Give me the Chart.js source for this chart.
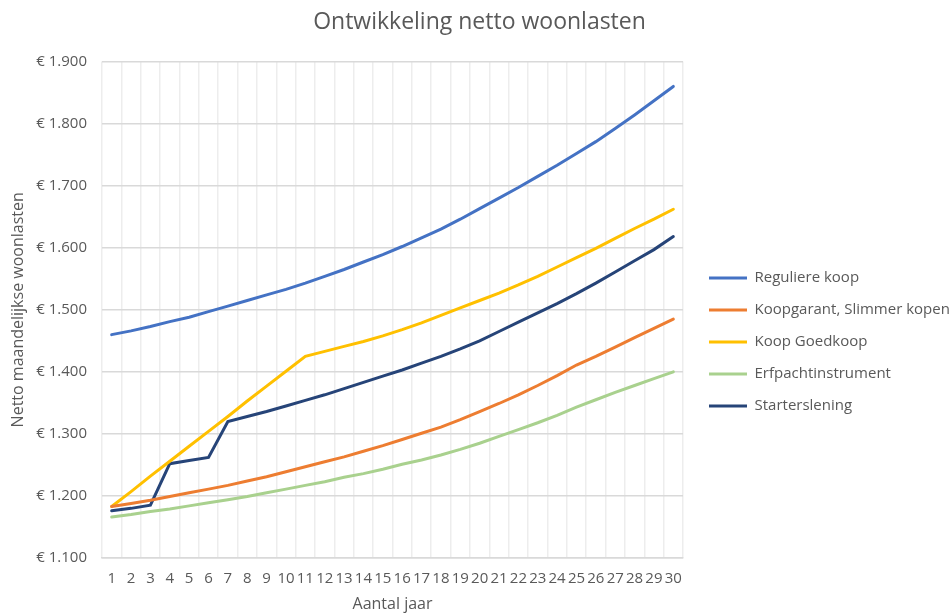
<!DOCTYPE html>
<html>
<head>
<meta charset="utf-8">
<script src="https://cdn.jsdelivr.net/npm/chart.js@4.4.0/dist/chart.umd.min.js"></script>
<style>
  html, body { margin: 0; background: #fff; }
  #wrap { width: 950px; height: 616px; }
</style>
</head>
<body>
<div id="wrap"><canvas id="woonlasten"></canvas></div>
<script>
// jaren op de x-as
const jaren = [1,2,3,4,5,6,7,8,9,10,11,12,13,14,15,16,17,18,19,20,21,22,23,24,25,26,27,28,29,30];

// netto maandelijkse woonlasten per variant
const reguliereKoop = [1460,1466,1473,1481,1488,1497,1506,1515,1524,1533,1543,1554,1565,1577,1589,1602,1616,1630,1646,1663,1680,1697,1715,1733,1752,1771,1792,1814,1837,1860];
const koopgarant    = [1183,1188,1193,1199,1205,1211,1217,1224,1231,1239,1247,1255,1263,1272,1281,1291,1301,1311,1323,1336,1349,1363,1378,1394,1411,1425,1440,1455,1470,1485];
const koopGoedkoop  = [1183,1207,1232,1256,1280,1304,1328,1353,1377,1401,1425,1433,1441,1449,1458,1468,1479,1491,1503,1515,1527,1540,1554,1569,1584,1599,1615,1631,1646,1662];
const erfpacht      = [1166,1170,1175,1179,1184,1189,1194,1199,1205,1211,1217,1223,1230,1236,1243,1251,1258,1266,1275,1285,1296,1307,1318,1330,1343,1355,1367,1378,1389,1400];
const starterslening= [1176,1180,1185,1252,1257,1262,1320,1328,1336,1345,1354,1363,1373,1383,1393,1403,1414,1425,1437,1450,1465,1480,1495,1510,1526,1543,1561,1579,1597,1618];

// y-as
const yMin = 1100, yMax = 1900, yStap = 100;

const grijs = '#595959';
const lettertype = '"Open Sans", "Noto Sans", sans-serif';

function reeks(label, data, kleur) {
  return {
    label: label,
    data: data,
    borderColor: kleur,
    backgroundColor: kleur,
    borderWidth: 3,
    borderCapStyle: 'round',
    pointRadius: 0,
    pointHoverRadius: 0,
    tension: 0,
    fill: false
  };
}

new Chart(document.getElementById('woonlasten'), {
  type: 'line',
  data: {
    labels: jaren,
    datasets: [
      reeks('Reguliere koop', reguliereKoop, '#4472C4'),
      reeks('Koopgarant, Slimmer kopen', koopgarant, '#ED7D31'),
      reeks('Koop Goedkoop', koopGoedkoop, '#FFC000'),
      reeks('Erfpachtinstrument', erfpacht, '#A9D18E'),
      reeks('Starterslening', starterslening, '#264478')
    ]
  },
  options: {
    responsive: true,
    maintainAspectRatio: false,
    animation: false,
    layout: { padding: { left: 9, right: 0, top: 0, bottom: 2 } },
    plugins: {
      title: {
        display: true,
        text: 'Ontwikkeling netto woonlasten',
        color: grijs,
        font: { family: lettertype, size: 23, weight: 'normal' },
        padding: { top: 9, bottom: 25 }
      },
      legend: {
        position: 'right',
        align: 'center',
        maxWidth: 258,
        // lege titel om de legenda iets omlaag te schuiven
        title: { display: true, text: '', font: { size: 10 }, padding: { top: 58, bottom: 0 } },
        labels: {
          color: grijs,
          font: { family: lettertype, size: 15 },
          usePointStyle: true,
          pointStyle: 'line',
          pointStyleWidth: 38,
          padding: 17
        }
      },
      tooltip: { enabled: false }
    },
    scales: {
      x: {
        offset: true,
        grid: { color: '#ededed', lineWidth: 1.5, offset: true, drawTicks: false },
        border: { color: '#d9d9d9', width: 1.5 },
        ticks: {
          autoSkip: false,
          maxRotation: 0,
          color: grijs,
          padding: 12,
          font: { family: lettertype, size: 15 }
        },
        title: {
          display: true,
          text: 'Aantal jaar',
          color: grijs,
          font: { family: lettertype, size: 16 },
          padding: { top: 0, bottom: 0 }
        },
        afterFit: s => { s.height = 56; }
      },
      y: {
        min: yMin,
        max: yMax,
        grid: { color: '#d9d9d9', lineWidth: 1.5, drawTicks: false },
        border: { display: false },
        ticks: {
          stepSize: yStap,
          color: grijs,
          padding: 15,
          font: { family: lettertype, size: 15 },
          callback: v => '€ ' + v.toLocaleString('nl-NL')
        },
        title: {
          display: true,
          text: 'Netto maandelijkse woonlasten',
          color: grijs,
          font: { family: lettertype, size: 16 },
          padding: { top: 0, bottom: 4 }
        },
        afterFit: s => { s.width = 93; }
      },
      // lege ruimte tussen grafiek en legenda
      ruimte: {
        position: 'right',
        grid: { display: false },
        border: { display: false },
        ticks: { display: false },
        afterFit: s => { s.width = 9; }
      }
    }
  }
});
</script>
</body>
</html>
